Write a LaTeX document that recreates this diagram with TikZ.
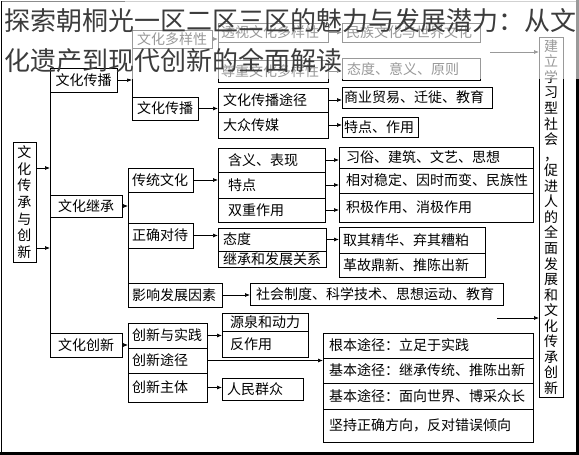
\documentclass[tikz,border=0pt]{standalone}
\usepackage{fontspec}
\setmainfont{Noto Sans CJK SC}
\usetikzlibrary{arrows.meta}
\definecolor{titlegray}{RGB}{60, 60, 60}
\definecolor{framegray}{RGB}{140, 140, 140}

\begin{document}
\begin{tikzpicture}[x=1pt, y=-1pt,
  cell/.style={draw, line width=0.9pt, anchor=north west, inner xsep=5pt, inner ysep=0pt, outer sep=0pt, align=left, font=\fontsize{14}{16}\selectfont},
  head/.style={cell, inner xsep=3pt, align=center},
  arr/.style={line width=0.7pt, -{Latex[length=5pt, width=4pt]}},
  ]
  \useasboundingbox (0,0) rectangle (579,455);

  % Frame
  \draw[framegray, line width=0.6pt] (1.5,1) -- (577,1);
  \draw[line width=0.8pt] (1.5,1) -- (1.5,453.5);
  \draw[line width=2.5pt] (577.5,0) -- (577.5,453.5) -- (0,453.5);

  % Root
  \node[head, text width=17pt, minimum height=120pt, font=\fontsize{14}{16.6}\selectfont] (root) at (13,142) {文\\化\\传\\承\\与\\创\\新};

  % Culture spreading
  \node[head, text width=61pt, minimum height=24pt] (sp1) at (50,68) {文化传播};
  \node[head, text width=74pt, minimum height=18pt] (dy) at (132,30) {文化多样性};
  \node[head, text width=60pt, minimum height=23pt] (sp2) at (132,97) {文化传播};
  \node[cell, inner xsep=3pt, text width=104pt, minimum height=19pt] (ts) at (218,23) {透视文化多样性};
  \node[cell, inner xsep=3pt, text width=104pt, minimum height=22pt] (zz) at (218,60) {尊重文化多样性};
  \node[cell, inner xsep=4pt, text width=130pt, minimum height=19pt] (mz) at (342,23) {民族文化与世界文化};
  \node[cell, text width=128pt, minimum height=22pt] (tdy) at (342,58) {态度、意义、原则};
  \node[cell, text width=100pt, minimum height=24pt] (ways) at (218,88) {文化传播途径};
  \node[cell, text width=100pt, minimum height=26pt] (media) at (218,112) {大众传媒};
  \node[cell, inner xsep=2pt, text width=146pt, minimum height=21pt] (sm) at (342,87) {商业贸易、迁徙、教育};
  \node[cell, inner xsep=2pt, text width=72pt, minimum height=20pt] (tz) at (342,117) {特点、作用};

  % Culture inheritance
  \node[head, text width=66pt, minimum height=22pt] (jc) at (50,195) {文化继承};
  \node[cell, inner xsep=4pt, text width=57pt, minimum height=24pt] (ct) at (128,168) {传统文化};
  \node[cell, inner xsep=10pt, text width=87pt, minimum height=24pt] (hy) at (218,148) {含义、表现};
  \node[cell, inner xsep=10pt, text width=87pt, minimum height=26pt] (tdian) at (218,172) {特点};
  \node[cell, inner xsep=10pt, text width=87pt, minimum height=24pt] (sz) at (218,198) {双重作用};
  \node[cell, inner xsep=7pt, text width=180pt, minimum height=21pt] (xs) at (339,147) {习俗、建筑、文艺、思想};
  \node[cell, inner xsep=7pt, text width=180pt, minimum height=25pt] (xd) at (339,168) {相对稳定、因时而变、民族性};
  \node[cell, inner xsep=7pt, text width=180pt, minimum height=29pt] (jj) at (339,193) {积极作用、消极作用};
  \node[cell, inner xsep=4pt, text width=57pt, minimum height=25pt] (zq) at (128,223) {正确对待};
  \node[cell, text width=98pt, minimum height=23pt] (td) at (218,228) {态度};
  \node[cell, text width=98pt, minimum height=16pt] (jf) at (218,251) {继承和发展关系};
  \node[cell, inner xsep=4pt, text width=138pt, minimum height=26pt] (qj) at (339,227) {取其精华、弃其糟粕};
  \node[cell, inner xsep=4pt, text width=138pt, minimum height=24pt] (gg) at (339,253) {革故鼎新、推陈出新};
  \node[cell, inner xsep=4pt, text width=86pt, minimum height=24pt] (yx) at (128,283) {影响发展因素};
  \node[cell, inner xsep=6pt, text width=241pt, minimum height=22pt] (sh) at (250,283) {社会制度、科学技术、思想运动、教育};

  % Culture innovation
  \node[head, text width=66pt, minimum height=24pt] (cx) at (50,333) {文化创新};
  \node[cell, inner xsep=4pt, text width=71pt, minimum height=25pt] (sj) at (128,323) {创新与实践};
  \node[cell, inner xsep=4pt, text width=71pt, minimum height=25pt] (tj) at (128,348) {创新途径};
  \node[cell, inner xsep=4pt, text width=71pt, minimum height=29pt] (zt) at (128,373) {创新主体};
  \node[cell, inner xsep=8pt, text width=70pt, minimum height=18pt] (yq) at (222,313) {源泉和动力};
  \node[cell, inner xsep=8pt, text width=70pt, minimum height=26pt] (fz) at (222,331) {反作用};
  \node[cell, text width=71pt, minimum height=22pt] (qz) at (222,378) {人民群众};
  \node[cell, inner xsep=6pt, text width=198pt, minimum height=25pt] (gb) at (323,333) {根本途径：立足于实践};
  \node[cell, inner xsep=6pt, text width=198pt, minimum height=25pt] (jb1) at (323,358) {基本途径：继承传统、推陈出新};
  \node[cell, inner xsep=6pt, text width=198pt, minimum height=26pt] (jb2) at (323,383) {基本途径：面向世界、博采众长};
  \node[cell, inner xsep=6pt, text width=198pt, minimum height=33pt] (fx) at (323,409) {坚持正确方向，反对错误倾向};

  % Goal
  \node[head, inner xsep=4pt, text width=16pt, minimum height=360pt, font=\fontsize{14}{15.55}\selectfont] (goal) at (539,37)
    {建\\立\\学\\习\\型\\社\\会\\，\\促\\进\\人\\的\\全\\面\\发\\展\\和\\文\\化\\传\\承\\创\\新};
  \coordinate (w1) at (490,52);
  \coordinate (w2) at (497,318);

  % Brackets
  \draw[line width=0.9pt] (sp1.west) -- (cx.west);
  \draw[line width=0.9pt] (dy.west) -- (sp2.west);
  \draw[line width=0.9pt] (ts.west) -- (zz.west);
  \draw[line width=0.9pt] (ct.west) -- (yx.west);

  % Arrows
  \draw[arr] ([yshift=34pt]root.east) -- ([yshift=34pt]root.east -| sp1.west);
  \draw[arr] ([yshift=-46pt]root.east) -- ([yshift=-46pt]root.east -| sp1.west);
  \draw[arr] (sp1.east) -- (sp1.east -| dy.west);
  \draw[arr] (dy.east) -- (dy.east -| ts.west);
  \draw[arr] (ts.east) -- (ts.east -| mz.west);
  \draw[arr] (zz.east) -- (zz.east -| tdy.west);
  \draw[arr] (sp2.east) -- (sp2.east -| ways.west);
  \draw[arr] (ways.east) -- (ways.east -| sm.west);
  \draw[arr] (media.east) -- (media.east -| tz.west);
  \draw[arr] (jc.east) -- (jc.east -| ct.west);
  \draw[arr] (ct.east) -- (ct.east -| hy.west);
  \draw[arr] (hy.east) -- (hy.east -| xs.west);
  \draw[arr] (tdian.east) -- (tdian.east -| xd.west);
  \draw[arr] (sz.east) -- (sz.east -| jj.west);
  \draw[arr] (zq.east) -- (zq.east -| td.west);
  \draw[arr] (td.east) -- (td.east -| qj.west);
  \draw[arr] (yx.east) -- (yx.east -| sh.west);
  \draw[arr] (cx.east) -- (cx.east -| sj.west);
  \draw[arr] (sj.east) -- (sj.east -| yq.west);
  \draw[arr] (tj.east) -- (tj.east -| gb.west);
  \draw[arr] (zt.east) -- (zt.east -| qz.west);
  \draw[arr] (w1) -- (w1 -| goal.west);
  \draw[arr] (w2) -- (w2 -| goal.west);

  % Faded top and title
  \fill[white, opacity=0.6] (125,0) rectangle (579,79);
  \node[anchor=west, inner sep=0pt, text=titlegray, font=\fontsize{26}{30}\selectfont] (title1) at (4,21) {探索朝桐光一区二区三区的魅力与发展潜力：从文};
  \node[anchor=west, inner sep=0pt, text=titlegray, font=\fontsize{26}{30}\selectfont] (title2) at (4,61) {化遗产到现代创新的全面解读};
\end{tikzpicture}
\end{document}
